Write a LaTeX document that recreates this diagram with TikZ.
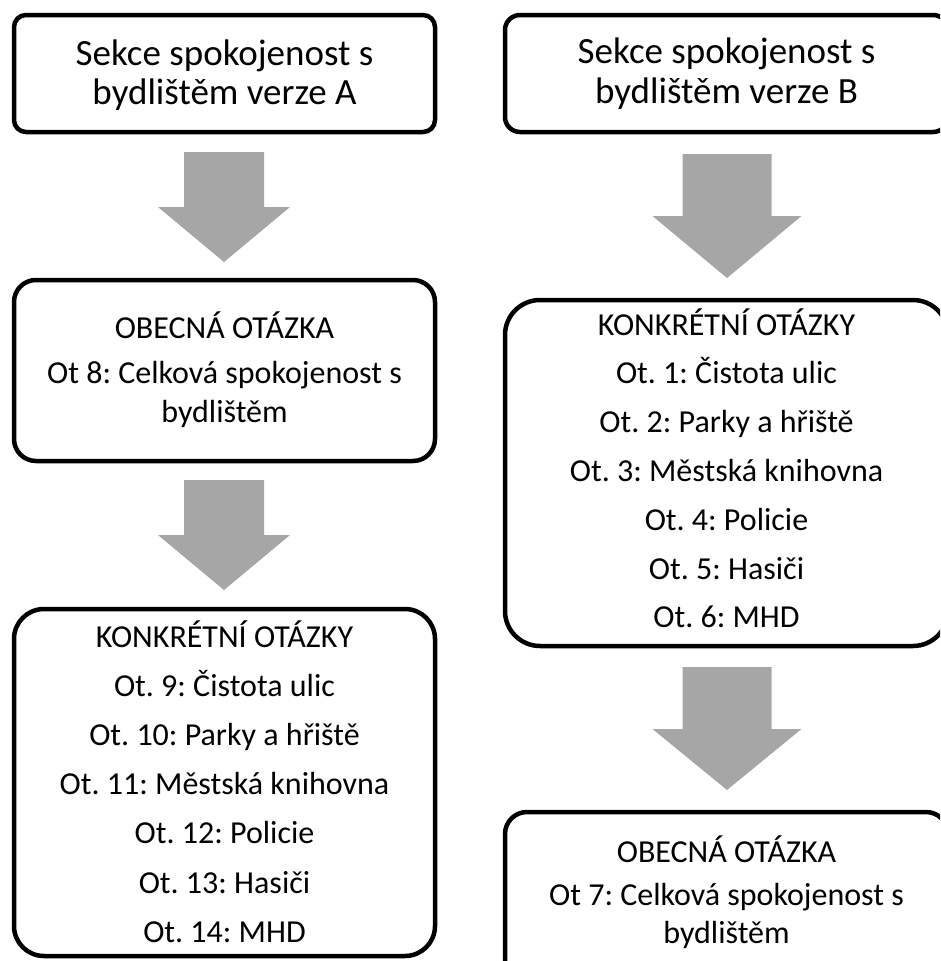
\documentclass[tikz,border=0pt]{standalone}
\usepackage{fontspec}
\setmainfont{Carlito}
\frenchspacing
\definecolor{arrowgray}{HTML}{A6A6A6}
\tikzset{
  box/.style={draw=black, line width=4.5pt, inner sep=0pt},
  head/.style={anchor=base, font=\fontsize{37}{39}\selectfont},
  txt/.style={anchor=base, font=\fontsize{32}{39}\selectfont},
  pics/blockarrow/.style n args={4}{code={
    \fill[arrowgray] (-#1,0) -- (#1,0) -- (#1,#3) -- (#2,#3) -- (0,#4)
      -- (-#2,#3) -- (-#1,#3) -- cycle;}}
}
\begin{document}
\begin{tikzpicture}[x=1pt, y=-1pt]
  \useasboundingbox (0,0) rectangle (940,961);
  \clip (0,0) rectangle (940,961);

  % verze A
  \node[box, rounded corners=12pt, minimum width=421pt, minimum height=117pt] (secA) at (224.5,73.5) {};
  \node[head] (secA1) at (224.5,65) {Sekce spokojenost s};
  \node[head] (secA2) at (224.5,104) {bydlištěm verze A};

  \pic (arrA1) at (224,152) {blockarrow={40}{66}{55}{110}};

  \node[box, rounded corners=22pt, minimum width=421pt, minimum height=181pt] (obecA) at (224.5,370.5) {};
  \node[txt] (obecA0) at (224.5,338) {OBECNÁ OTÁZKA};
  \node[txt] (obecA1) at (224.5,383) {Ot 8: Celková spokojenost s};
  \node[txt] (obecA2) at (224.5,422) {bydlištěm};

  \pic (arrA2) at (224,480) {blockarrow={40}{66}{55}{110}};

  \node[box, rounded corners=30pt, minimum width=421pt, minimum height=347pt] (konkA) at (224.5,782.5) {};
  \node[txt] (konkA0) at (224.5,647) {KONKRÉTNÍ OTÁZKY};
  \foreach \t [count=\i] in {Ot. 9: Čistota ulic, Ot. 10: Parky a hřiště,
      Ot. 11: Městská knihovna, Ot. 12: Policie, Ot. 13: Hasiči, Ot. 14: MHD}
    \node[txt] (konkA\i) at (224.5,647+49.2*\i) {\t};

  % verze B
  \node[box, rounded corners=15pt, minimum width=443pt, minimum height=117pt] (secB) at (726.5,73.5) {};
  \node[head] (secB1) at (726.5,63) {Sekce spokojenost s};
  \node[head] (secB2) at (726.5,103) {bydlištěm verze B};

  \pic (arrB1) at (727,154) {blockarrow={44.5}{74.5}{62}{124}};

  \node[box, rounded corners=35pt, minimum width=443pt, minimum height=346pt] (konkB) at (726.5,473) {};
  \node[txt] (konkB0) at (726.5,335) {KONKRÉTNÍ OTÁZKY};
  \foreach \t [count=\i] in {Ot. 1: Čistota ulic, Ot. 2: Parky a hřiště,
      Ot. 3: Městská knihovna, Ot. 4: Policie, Ot. 5: Hasiči, Ot. 6: MHD}
    \node[txt] (konkB\i) at (726.5,335+48.8*\i) {\t};

  \pic (arrB2) at (727,667) {blockarrow={44.5}{74.5}{62}{123}};

  \node[box, rounded corners=22pt, minimum width=443pt, minimum height=181pt] (obecB) at (726.5,902.5) {};
  \node[txt] (obecB0) at (726.5,862) {OBECNÁ OTÁZKA};
  \node[txt] (obecB1) at (726.5,905) {Ot 7: Celková spokojenost s};
  \node[txt] (obecB2) at (726.5,943) {bydlištěm};
\end{tikzpicture}
\end{document}
